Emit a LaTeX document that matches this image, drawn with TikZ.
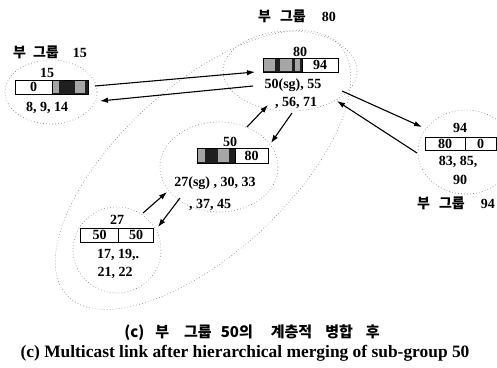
\documentclass[tikz,border=0pt]{standalone}
\usepackage{fontspec}
\setmainfont{Liberation Serif}
\newfontfamily\kr{Noto Sans CJK KR}
\usetikzlibrary{arrows.meta}
\begin{document}
\begin{tikzpicture}[x=1pt,y=-1pt,
  num/.style={font=\fontsize{14}{14}\selectfont\bfseries, inner sep=0pt},
  krlab/.style={font=\fontsize{14}{14}\selectfont\bfseries, inner sep=0pt},
  ring/.style={draw=black!50, line width=0.7pt, dash pattern=on 0.6pt off 2.4pt},
  cell/.style={draw, line width=0.9pt, inner sep=0pt, font=\fontsize{14}{14}\selectfont\bfseries},
  darkcell/.style={cell, fill=black!88},
  patch/.style={fill=black!35},
  link/.style={line width=1.1pt, -{Latex[length=8pt,width=5.5pt]}}
]
\useasboundingbox (0,0) rectangle (497,367);

% rings
\draw[ring, rotate around={42.5:(203,170)}] (203,170) ellipse [x radius=185, y radius=84];
\draw[ring] (51,92) ellipse [x radius=46, y radius=32];
\draw[ring] (290,71) ellipse [x radius=67, y radius=40];
\draw[ring] (219,167) ellipse [x radius=59, y radius=45];
\draw[ring] (117,250) ellipse [x radius=44, y radius=43];
\draw[ring] (466,152) ellipse [x radius=48, y radius=42];

% group labels
\node[krlab] (g15) at (50,52) {{\kr 부\hspace{7pt}그룹}\hspace{14pt}15};
\node[krlab] (g80) at (297,16) {{\kr 부\hspace{9pt}그룹}\hspace{16pt}80};
\node[krlab, anchor=west] (g94) at (417,203) {{\kr 부\hspace{9pt}그룹}\hspace{16pt}94};

% node 15
\node[num] (t15) at (47,73) {15};
\node[cell, minimum width=37pt, minimum height=14pt] (b15a) at (33.5,87) {0};
\node[darkcell, minimum width=36pt, minimum height=14pt] (b15b) at (70,87) {};
\fill[patch] (53,81) rectangle (59,93);
\fill[patch] (75,81) rectangle (85,93);
\node[num] (m15) at (47,108) {8, 9, 14};

% node 80
\node[num] (t80) at (300,52) {80};
\node[darkcell, minimum width=39pt, minimum height=14pt] (b80a) at (282.5,65) {};
\fill[patch] (264,59) rectangle (275,71);
\fill[patch] (280,59) rectangle (292,71);
\fill[patch] (295,59) rectangle (300,71);
\node[cell, minimum width=36pt, minimum height=14pt] (b80b) at (320,65) {94};
\node[num] (m80a) at (293,85) {50(sg), 55};
\node[num] (m80b) at (296,103) {, 56, 71};

% node 50
\node[num] (t50) at (230,142) {50};
\node[darkcell, minimum width=38pt, minimum height=15pt] (b50a) at (216,155.5) {};
\fill[patch] (198,149) rectangle (205,162);
\fill[patch] (218,149) rectangle (229,162);
\node[cell, minimum width=33pt, minimum height=15pt] (b50b) at (251.5,155.5) {80};
\node[num] (m50a) at (215,183) {27(sg) , 30, 33};
\node[num] (m50b) at (210,205) {, 37, 45};

% node 27
\node[num] (t27) at (117,220) {27};
\node[cell, minimum width=38pt, minimum height=14pt] (b27a) at (99.5,235) {50};
\node[cell, minimum width=35pt, minimum height=14pt] (b27b) at (136,235) {50};
\node[num] (m27a) at (118,255) {17, 19,.};
\node[num] (m27b) at (115,273) {21, 22};

% node 94
\node[num] (t94) at (460,128) {94};
\node[cell, minimum width=40pt, minimum height=13pt] (b94a) at (445,143.5) {80};
\node[cell, minimum width=31pt, minimum height=13pt] (b94b) at (480.5,143.5) {0};
\node[num] (m94a) at (458,162) {83, 85,};
\node[num] (m94b) at (460,180) {90};

% link end points
\coordinate (p1s) at (95,86);   \coordinate (p1e) at (255,72);
\coordinate (p2s) at (253,86);  \coordinate (p2e) at (100,101);
\coordinate (p3s) at (342,91);  \coordinate (p3e) at (422,127);
\coordinate (p4s) at (417,153); \coordinate (p4e) at (337,101);
\coordinate (p5s) at (247,127); \coordinate (p5e) at (268,105);
\coordinate (p6s) at (292,113); \coordinate (p6e) at (271,143);
\coordinate (p7s) at (143,213); \coordinate (p7e) at (167,192);
\coordinate (p8s) at (180,198); \coordinate (p8e) at (158,227);
\draw[link] (p1s) -- (p1e);
\draw[link] (p2s) -- (p2e);
\draw[link] (p3s) -- (p3e);
\draw[link] (p4s) -- (p4e);
\draw[link] (p5s) -- (p5e);
\draw[link] (p6s) -- (p6e);
\draw[link] (p7s) -- (p7e);
\draw[link] (p8s) -- (p8e);

% captions
\node[inner sep=0pt, font=\kr\fontsize{15}{15}\selectfont\bfseries] (capkr) at (252,333)
  {(c)\hspace{11pt}부\hspace{15pt}그룹\hspace{9pt}50의\hspace{18pt}계층적\hspace{13pt}병합\hspace{13pt}후};
\node[inner sep=0pt, font=\fontsize{17.4}{17.4}\selectfont\bfseries] (capen) at (245,353)
  {(c) Multicast link after hierarchical merging of sub-group 50};
\end{tikzpicture}
\end{document}
